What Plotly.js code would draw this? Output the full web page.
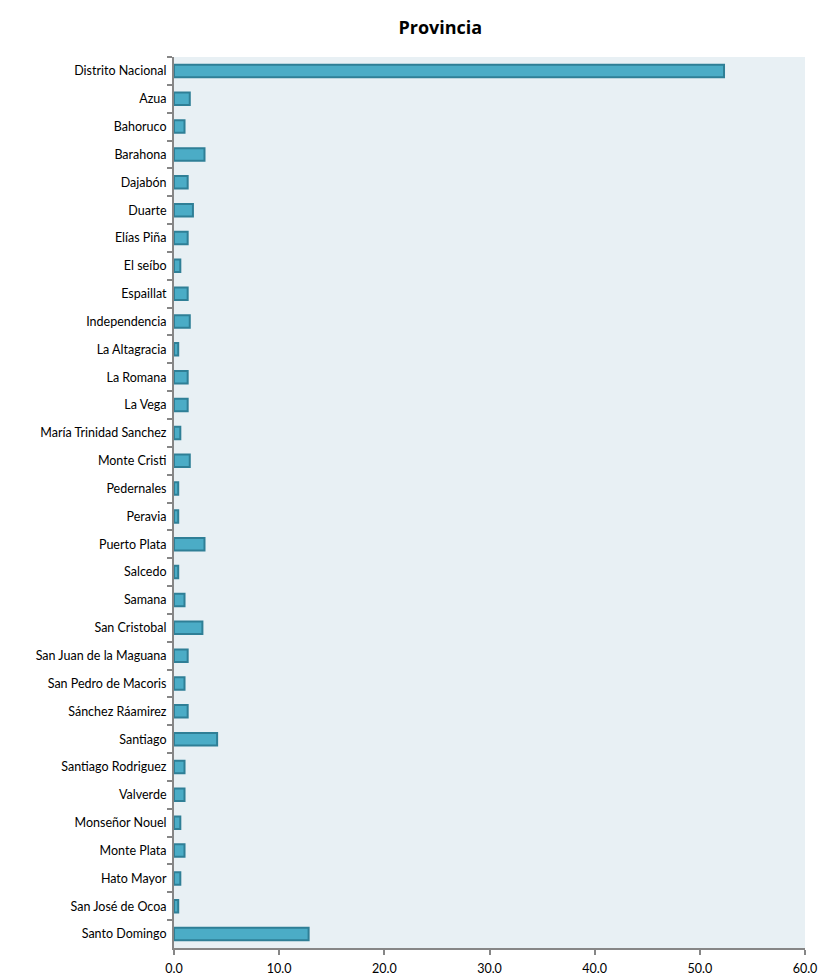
<!DOCTYPE html>
<html>
<head>
<meta charset="utf-8">
<script src="https://cdn.plot.ly/plotly-3.0.1.min.js"></script>
<style>html,body{margin:0;padding:0;background:#fff;}#chart{width:820px;height:980px;}</style>
</head>
<body>
<div id="chart"></div>
<script>
const provinces = ["Distrito Nacional","Azua","Bahoruco","Barahona","Dajabón","Duarte","Elías Piña","El seíbo","Espaillat","Independencia","La Altagracia","La Romana","La Vega","María Trinidad Sanchez","Monte Cristi","Pedernales","Peravia","Puerto Plata","Salcedo","Samana","San Cristobal","San Juan de la Maguana","San Pedro de Macoris","Sánchez Ráamirez","Santiago","Santiago Rodriguez","Valverde","Monseñor Nouel","Monte Plata","Hato Mayor","San José de Ocoa","Santo Domingo"];
const values = [52.3,1.5,1.0,2.9,1.3,1.8,1.3,0.6,1.3,1.5,0.4,1.3,1.3,0.6,1.5,0.4,0.4,2.9,0.4,1.0,2.7,1.3,1.0,1.3,4.1,1.0,1.0,0.6,1.0,0.6,0.4,12.8];
const xTicks = [0,10,20,30,40,50,60];

const trace = {
  type: "bar",
  orientation: "h",
  y: provinces,
  x: values,
  width: 0.45,
  marker: {color: "#4BACC6", line: {color: "#2F7F96", width: 2}},
  hoverinfo: "x+y"
};

const layout = {
  width: 820, height: 980,
  margin: {l: 174, r: 15, t: 57, b: 32},
  paper_bgcolor: "#ffffff",
  plot_bgcolor: "#E8F0F4",
  font: {family: "Lato, 'Open Sans', sans-serif", size: 12, color: "#000"},
  title: {text: "<b>Provincia</b>", x: 0.537, xanchor: "center", y: 0.972, yanchor: "middle",
          font: {family: "'Open Sans', sans-serif", size: 18, color: "#000"}},
  showlegend: false,
  xaxis: {
    range: [0, 60], tickvals: xTicks, ticktext: xTicks.map(v => v.toFixed(1)),
    showgrid: false, zeroline: false,
    showline: true, linecolor: "#868686", linewidth: 2,
    ticks: "outside", ticklen: 5, tickwidth: 2, tickcolor: "#868686",
    ticklabelstandoff: 3,
    tickfont: {size: 12.5}, fixedrange: true
  },
  yaxis: {
    type: "category", autorange: "reversed",
    showgrid: false, zeroline: false,
    showline: true, linecolor: "#868686", linewidth: 2,
    ticks: "outside", tickson: "boundaries", ticklen: 5, tickwidth: 2, tickcolor: "#868686",
    ticklabelstandoff: 3,
    tickfont: {size: 12.5}, fixedrange: true
  }
};

Plotly.newPlot("chart", [trace], layout, {displayModeBar: false, staticPlot: true});
</script>
</body>
</html>
